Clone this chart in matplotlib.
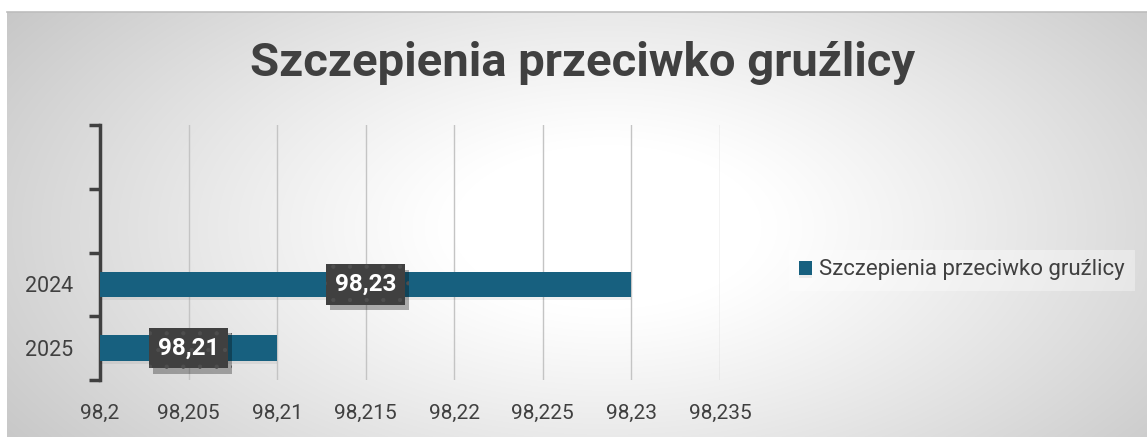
import numpy as np
import matplotlib
matplotlib.use('Agg')
import matplotlib.pyplot as plt
import matplotlib.patheffects as pe
from matplotlib.ticker import FuncFormatter, MultipleLocator

# ── Data ─────────────────────────────────────────────────────────────────
years  = ['2025', '2024']          # bottom to top
values = [98.21, 98.23]
series_name = 'Szczepienia przeciwko gruźlicy'
x_min, x_max, x_step = 98.2, 98.235, 0.005
n_slots = 4                        # Excel leaves two empty category slots on top

TEXT  = '#404040'
BAR   = '#17607f'
FONT  = 'Roboto'

plt.rcParams['font.family'] = [FONT, 'DejaVu Sans']
plt.rcParams['hatch.linewidth'] = 0.6

W, H = 1147, 437
fig = plt.figure(figsize=(W / 100, H / 100), dpi=100)

# ── Radial gradient background (chart area) ─────────────────────────────
bg = fig.add_axes([7 / W, 0, 1 - 7 / W, (H - 12) / H], zorder=-10)
yy, xx = np.mgrid[0:H - 12, 0:W - 7]
cx, cy = 600, 215
r = np.sqrt(((xx - cx) / 620) ** 2 + ((yy - cy) / 330) ** 2)
shade = 1.0 - 0.24 * np.clip(r - 0.25, 0, None) ** 1.1
bg.imshow(np.dstack([shade] * 3).clip(0, 1), aspect='auto', extent=[0, 1, 0, 1])
bg.axis('off')
fig.add_artist(plt.Line2D([7 / W, 1], [1 - 12 / H] * 2, color='#bdbdbd', lw=1.2,
                          transform=fig.transFigure))

# ── Plot area ────────────────────────────────────────────────────────────
ax = fig.add_axes([100 / W, 1 - 380 / H, 620 / W, 255 / H])
ax.set_facecolor('none')
pos = np.arange(len(years))
bars = ax.barh(pos, [v - x_min for v in values], left=x_min, height=0.4,
               color=BAR, label=series_name, zorder=3)
for b in bars:
    b.set_path_effects([pe.SimplePatchShadow(offset=(0, -2), shadow_rgbFace='k',
                                             alpha=0.06), pe.Normal()])

ax.set_xlim(x_min, x_max)
ax.set_ylim(-0.5, n_slots - 0.5)
ax.xaxis.set_major_locator(MultipleLocator(x_step))
ax.xaxis.set_major_formatter(FuncFormatter(
    lambda v, _: f'{v:.3f}'.rstrip('0').rstrip('.').replace('.', ',')))
ax.grid(axis='x', color='#c4c4c4', lw=1, zorder=0)
ax.tick_params(axis='x', length=0, pad=17, labelsize=15, labelcolor=TEXT)

ax.set_yticks(np.arange(-0.5, n_slots, 1.0))
ax.set_yticklabels([])
ax.tick_params(axis='y', which='major', length=8, width=2.5, color=TEXT)
ax.set_yticks(pos, minor=True)
ax.set_yticklabels(years, minor=True)
ax.tick_params(axis='y', which='minor', length=0, pad=19, labelsize=15.5,
               labelcolor=TEXT)

for s in ['top', 'right', 'bottom']:
    ax.spines[s].set_visible(False)
ax.spines['left'].set_color(TEXT)
ax.spines['left'].set_linewidth(2.5)

# ── Data labels ──────────────────────────────────────────────────────────
for p, v in zip(pos, values):
    t = ax.text((x_min + v) / 2, p, f'{v:.2f}'.replace('.', ','), ha='center',
                va='center', color='white', fontsize=17.5, fontweight='bold',
                zorder=5,
                bbox=dict(boxstyle='square,pad=0.36', facecolor='#404040',
                          edgecolor='#4e4e4e', hatch='.', lw=0))
    t.get_bbox_patch().set_path_effects([
        pe.SimplePatchShadow(offset=(3, -4), shadow_rgbFace='k', alpha=0.3),
        pe.Normal()])

# ── Title & legend ───────────────────────────────────────────────────────
fig.text(0.508, 1 - 63 / H, series_name, ha='center', va='center',
         fontsize=34, fontweight='bold', color=TEXT)
leg = fig.legend(handles=[bars], loc='center left', bbox_to_anchor=(778 / W, 1 - 270 / H),
                 fontsize=16, frameon=True, fancybox=False, handlelength=0.6,
                 handleheight=0.6, handletextpad=0.3, borderpad=0.45)
leg.get_frame().set_facecolor('white')
leg.get_frame().set_alpha(0.35)
leg.get_frame().set_linewidth(0)
for txt in leg.get_texts():
    txt.set_color(TEXT)

fig.savefig('out.png', dpi=100)
